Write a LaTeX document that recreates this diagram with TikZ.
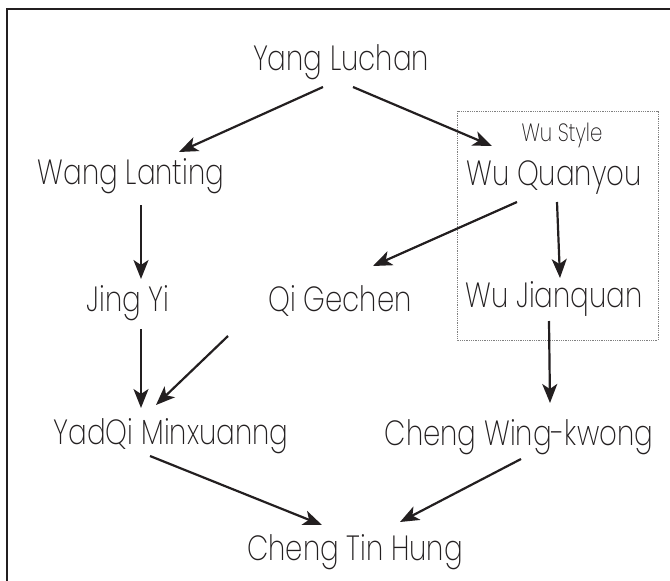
\documentclass[tikz,border=0pt]{standalone}
\usepackage{fontspec}
\setmainfont{Poppins}[UprightFont=* ExtraLight, FakeStretch=0.79]
\usetikzlibrary{arrows.meta}
\definecolor{ink}{HTML}{231F20}
\tikzset{
  person/.style={anchor=base, inner sep=0pt, text=ink, font=\fontsize{35}{40}\selectfont},
  smalllabel/.style={anchor=base, inner sep=0pt, text=ink, font=\fontsize{25}{30}\selectfont},
  arr/.style={draw=ink, line width=2.2pt, -{Stealth[length=19pt,width=15pt,inset=5pt]}},
}
\begin{document}
\begin{tikzpicture}[x=1pt,y=-1pt]
\useasboundingbox (0,0) rectangle (670,581);
\draw[ink, line width=1.2pt] (7,9) rectangle (690,600);
\draw[gray, line width=0.8pt, densely dotted] (457,111) rectangle (658,340);
\node[person] (yang) at (341,70) {Yang Luchan};
\node[person] (wang) at (131,184) {Wang Lanting};
\node[smalllabel] (wustyle) at (562,141) {Wu Style};
\node[person] (wuq) at (554,185) {Wu Quanyou};
\node[person] (jing) at (128,311) {Jing Yi};
\node[person] (qi) at (340,311) {Qi Gechen};
\node[person] (wuj) at (554,307) {Wu Jianquan};
\node[person] (yad) at (171,444) {YadQi Minxuanng};
\node[person] (cwk) at (519,445) {Cheng Wing-kwong};
\node[person] (cth) at (355,560) {Cheng Tin Hung};
\draw[arr] ([shift={(-18,17)}]yang.base) -- ([shift={(48,-32)}]wang.base);
\draw[arr] ([shift={(12,17)}]yang.base) -- ([shift={(-62,-39)}]wuq.base);
\draw[arr] ([shift={(10,21)}]wang.base) -- ([shift={(13,-32)}]jing.base);
\draw[arr] ([shift={(-37,17)}]wuq.base) -- ([shift={(33,-45)}]qi.base);
\draw[arr] ([shift={(3,17)}]wuq.base) -- ([shift={(6,-29)}]wuj.base);
\draw[arr] ([shift={(13,18)}]jing.base) -- ([shift={(-30,-36)}]yad.base);
\draw[arr] ([shift={(-112,25)}]qi.base) -- ([shift={(-15,-39)}]yad.base);
\draw[arr] ([shift={(-5,14)}]wuj.base) -- ([shift={(31,-42)}]cwk.base);
\draw[arr] ([shift={(-21,12)}]yad.base) -- ([shift={(-33,-35)}]cth.base);
\draw[arr] ([shift={(2,14)}]cwk.base) -- ([shift={(45,-38)}]cth.base);
\end{tikzpicture}
\end{document}
